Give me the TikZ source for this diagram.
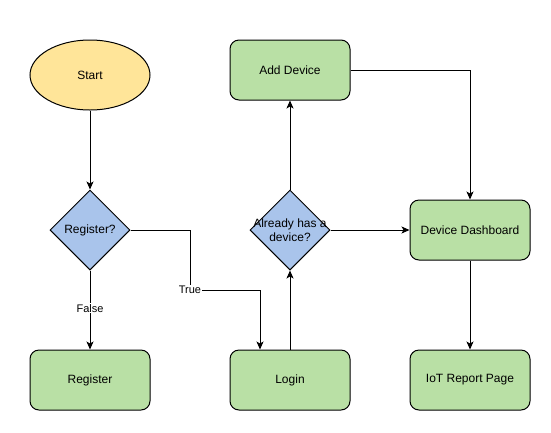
\documentclass[tikz,border=0pt]{standalone}
\usepackage{fontspec}
\setmainfont{Liberation Sans}
\usetikzlibrary{shapes.geometric, arrows.meta}
\definecolor{startfill}{HTML}{FFE599}
\definecolor{stepfill}{HTML}{B9E0A5}
\definecolor{askfill}{HTML}{A9C4EB}
\tikzstyle{arrow} = [
	line width=1pt,
	-{Stealth[length=8pt,width=7pt,inset=2pt]},
	black,
]
\tikzstyle{inicio} = [
  ellipse,
  minimum width=120pt,
  minimum height=70pt,
  text centered,
  line width=1pt,
  draw=black,
  fill=startfill
]
\tikzstyle{paso} = [
  rectangle,
  rounded corners=9pt,
  minimum width=120pt,
  minimum height=60pt,
  text centered,
  line width=1pt,
  draw=black,
  fill=stepfill
]
\tikzstyle{pregunta} = [
  diamond,
  minimum width=80pt,
  minimum height=80pt,
  inner sep=0pt,
  text centered,
  line width=1pt,
  draw=black,
  fill=askfill
]
\tikzstyle{etiqueta} = [
  fill=white,
  inner sep=1pt,
  font=\fontsize{11}{13}\selectfont
]

\begin{document}
\begin{tikzpicture}[x=1pt, y=-1pt, font=\fontsize{12}{14}\selectfont]
    \useasboundingbox (0,0) rectangle (551,432);

    \node[inicio] (S) at (90,75) {Start};
    \node[pregunta] (R) at (90,230) {Register?};
    \node[paso] (G) at (90,380) {Register};
    \node[paso] (L) at (290,380) {Login};
    \node[pregunta, label={[align=center]center:Already has a\\device?}] (H) at (290,230) {};
    \node[paso] (A) at (290,70) {Add Device};
    \node[paso] (D) at (470,230) {Device Dashboard};
    \node[paso] (I) at (470,380) {IoT Report Page};

    \draw[arrow] (S) -- (R);
    \draw[arrow] (R) -- node[etiqueta, pos=0.48] {False} (G);
    \draw[arrow] (R.east) -| (190,290) node[etiqueta] {True} -| ([xshift=-30pt]L.north);
    \draw[arrow] (L) -- (H);
    \draw[arrow] (H) -- (A);
    \draw[arrow] (H) -- (D);
    \draw[arrow] (A.east) -| (D.north);
    \draw[arrow] (D) -- (I);
  \end{tikzpicture}
\end{document}
